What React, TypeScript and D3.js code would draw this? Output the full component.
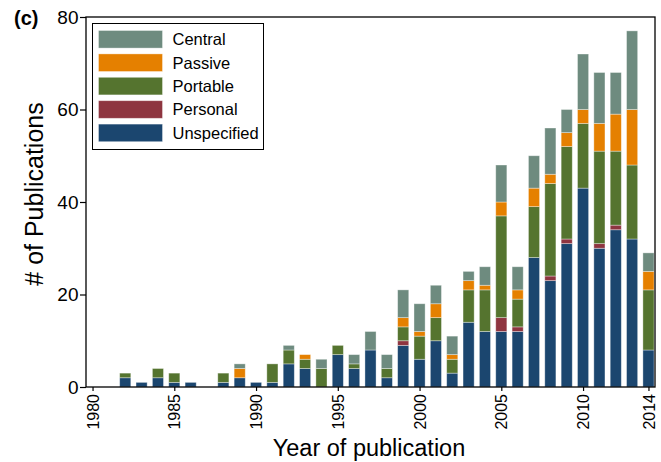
import { useEffect, useRef } from "react";
import * as d3 from "d3";

// ---- data ----
const years = [
  1982, 1983, 1984, 1985, 1986, 1987, 1988, 1989, 1990, 1991, 1992, 1993, 1994, 1995, 1996, 1997, 1998,
  1999, 2000, 2001, 2002, 2003, 2004, 2005, 2006, 2007, 2008, 2009, 2010, 2011, 2012, 2013, 2014,
];
const unspecified = [2, 1, 2, 1, 1, 0, 1, 2, 1, 1, 5, 4, 0, 7, 4, 8, 2, 9, 6, 10, 3, 14, 12, 12, 12, 28, 23, 31, 43, 30, 34, 32, 8];
const personal = [0, 0, 0, 0, 0, 0, 0, 0, 0, 0, 0, 0, 0, 0, 0, 0, 0, 1, 0, 0, 0, 0, 0, 3, 1, 0, 1, 1, 0, 1, 1, 0, 0];
const portable = [1, 0, 2, 2, 0, 0, 2, 0, 0, 4, 3, 2, 4, 2, 1, 0, 2, 3, 5, 5, 3, 7, 9, 22, 6, 11, 20, 20, 14, 20, 16, 16, 13];
const passive = [0, 0, 0, 0, 0, 0, 0, 2, 0, 0, 0, 1, 0, 0, 0, 0, 0, 2, 1, 3, 1, 2, 1, 3, 2, 4, 2, 3, 3, 6, 8, 12, 4];
const central = [0, 0, 0, 0, 0, 0, 0, 1, 0, 0, 1, 0, 2, 0, 2, 4, 3, 6, 6, 4, 4, 2, 4, 8, 5, 7, 10, 5, 12, 11, 9, 17, 4];

const seriesNames = ["Unspecified", "Personal", "Portable", "Passive", "Central"];
const seriesColors = ["#1b466f", "#8e3540", "#55742f", "#e58000", "#6e8b7f"];
const xTicks = [1980, 1985, 1990, 1995, 2000, 2005, 2010, 2014];
const yTicks = [0, 20, 40, 60, 80];

const W = 661;
const H = 462;
const margin = { top: 17, right: 6, bottom: 75, left: 86 };
const font = "'Liberation Sans', Arial, Helvetica, sans-serif";

export default function App() {
  const svgRef = useRef<SVGSVGElement>(null);

  useEffect(() => {
    const svg = d3.select(svgRef.current);
    svg.selectAll("*").remove();

    const width = W - margin.left - margin.right;
    const height = H - margin.top - margin.bottom;

    const x = d3.scaleLinear().domain([1979.6, 2014.4]).range([0, width]);
    const y = d3.scaleLinear().domain([0, 80]).range([height, 0]);
    const barW = x(1980.68) - x(1980);

    const rows = years.map((yr, i) => ({
      year: yr,
      Unspecified: unspecified[i],
      Personal: personal[i],
      Portable: portable[i],
      Passive: passive[i],
      Central: central[i],
    }));
    const stacked = d3.stack<any>().keys(seriesNames)(rows);

    const g = svg.append("g").attr("transform", `translate(${margin.left},${margin.top})`);

    // ---- bars ----
    g.selectAll(".layer")
      .data(stacked)
      .enter()
      .append("g")
      .attr("class", "layer")
      .attr("fill", (_d, i) => seriesColors[i])
      .selectAll("rect")
      .data((d) => d.filter((p) => p[1] - p[0] > 0))
      .enter()
      .append("rect")
      .attr("x", (d: any) => x(d.data.year) - barW / 2)
      .attr("width", barW)
      .attr("y", (d) => y(d[1]))
      .attr("height", (d) => y(d[0]) - y(d[1]))
      .attr("stroke", "#ffffff")
      .attr("stroke-opacity", 0.45)
      .attr("stroke-width", 0.8);

    // ---- frame ----
    g.append("rect")
      .attr("width", width)
      .attr("height", height)
      .attr("fill", "none")
      .attr("stroke", "#000")
      .attr("stroke-width", 1.3);

    // ---- y axis ----
    const yAxis = g.append("g").call(d3.axisLeft(y).tickValues(yTicks).tickSize(6).tickPadding(1.5));
    yAxis.select(".domain").remove();
    yAxis.selectAll("line").attr("stroke", "#000").attr("stroke-width", 1.2);
    yAxis.selectAll("text").attr("font-family", font).attr("font-size", 19).attr("fill", "#000");

    // ---- x axis ----
    const xAxis = g
      .append("g")
      .attr("transform", `translate(0,${height})`)
      .call(d3.axisBottom(x).tickValues(xTicks).tickFormat(d3.format("d")).tickSize(4));
    xAxis.select(".domain").remove();
    xAxis.selectAll("line").attr("stroke", "#000").attr("stroke-width", 1.2);
    xAxis
      .selectAll("text")
      .attr("font-family", font)
      .attr("font-size", 16)
      .attr("fill", "#000")
      .attr("transform", "rotate(-90)")
      .attr("text-anchor", "end")
      .attr("x", -7)
      .attr("y", 0)
      .attr("dy", "0.35em");

    // ---- axis titles ----
    svg.append("text")
      .attr("x", 369)
      .attr("y", 456)
      .attr("text-anchor", "middle")
      .attr("font-family", font)
      .attr("font-size", 23.5)
      .text("Year of publication");

    svg.append("text")
      .attr("transform", "translate(43,194) rotate(-90)")
      .attr("text-anchor", "middle")
      .attr("font-family", font)
      .attr("font-size", 25)
      .text("# of Publications");

    svg.append("text")
      .attr("x", 14)
      .attr("y", 25)
      .attr("font-family", font)
      .attr("font-weight", "bold")
      .attr("font-size", 20)
      .text("(c)");

    // ---- legend ----
    const legend = svg.append("g").attr("transform", "translate(92.5,23.5)");
    legend.append("rect")
      .attr("width", 171)
      .attr("height", 126)
      .attr("fill", "#fff")
      .attr("stroke", "#000")
      .attr("stroke-width", 1);
    const legendOrder = [...seriesNames].reverse();
    legendOrder.forEach((name, i) => {
      const row = legend.append("g").attr("transform", `translate(6,${7 + i * 23.4})`);
      row.append("rect")
        .attr("width", 64)
        .attr("height", 17.6)
        .attr("fill", seriesColors[seriesNames.indexOf(name)])
        .attr("stroke", "#ffffff")
        .attr("stroke-opacity", 0.45)
        .attr("stroke-width", 0.8);
      row.append("text")
        .attr("x", 74)
        .attr("y", 9)
        .attr("dy", "0.35em")
        .attr("font-family", font)
        .attr("font-size", 16.5)
        .text(name);
    });
  }, []);

  return (
    <svg
      ref={svgRef}
      width={W}
      height={H}
      style={{ position: "absolute", left: 0, top: 0, background: "#fff" }}
    ></svg>
  );
}
